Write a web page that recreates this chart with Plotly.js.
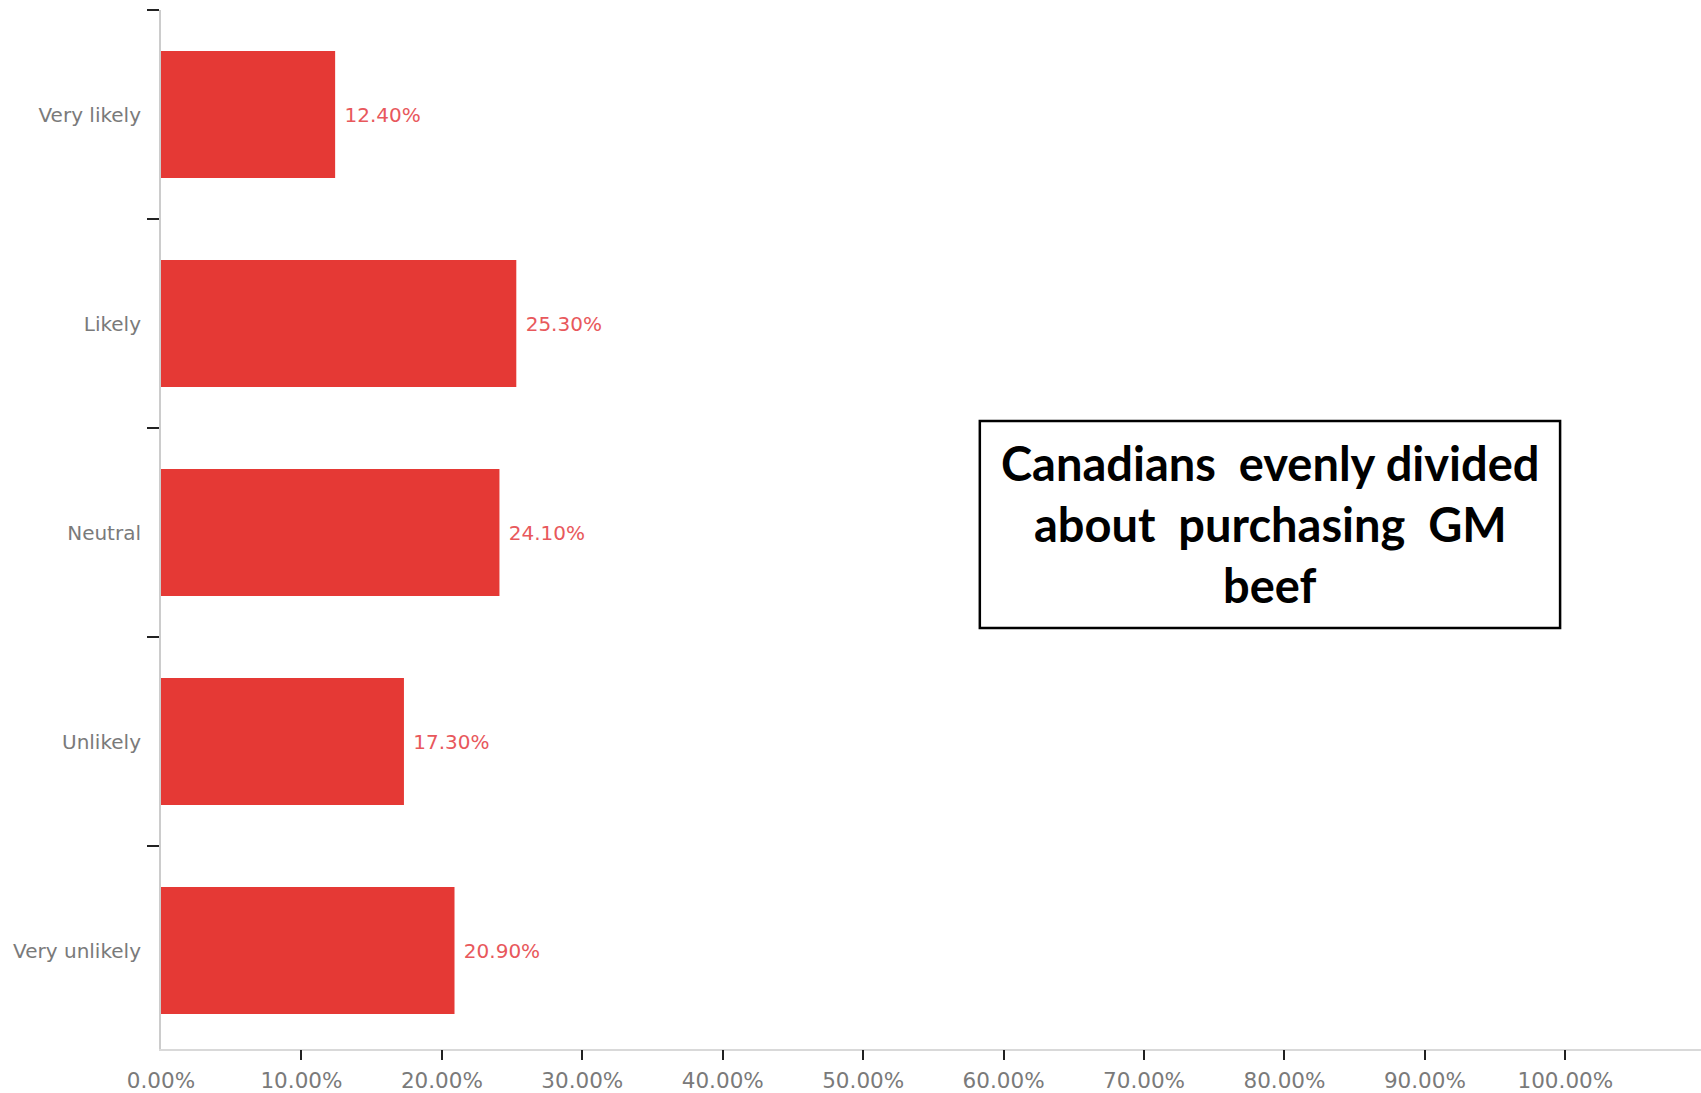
<!DOCTYPE html>
<html>
<head>
<meta charset="utf-8">
<script src="https://cdn.plot.ly/plotly-3.0.1.min.js"></script>
<style>
  html, body { margin: 0; padding: 0; background: #ffffff; }
  #chart { width: 1701px; height: 1093px; }
</style>
</head>
<body>
<div id="chart"></div>
<script>
// ---- data ----
var categories = ["Very likely", "Likely", "Neutral", "Unlikely", "Very unlikely"];
var shares = [0.124, 0.253, 0.241, 0.173, 0.209];
var xTickVals = [0, 0.1, 0.2, 0.3, 0.4, 0.5, 0.6, 0.7, 0.8, 0.9, 1.0];
var xTickText = ["0.00%", "10.00%", "20.00%", "30.00%", "40.00%", "50.00%", "60.00%", "70.00%", "80.00%", "90.00%", "100.00%"];
var xTickMarks = [0.1, 0.2, 0.3, 0.4, 0.5, 0.6, 0.7, 0.8, 0.9, 1.0];
var titleLines = ["Canadians  evenly divided", "about  purchasing  GM", "beef"];

var barColor = "#e53935";
var labelColor = "#e8585c";
var axisText = "#7a7a7a";
var labelFont = "DejaVu Sans, Liberation Sans, sans-serif";

var trace = {
  type: "bar",
  orientation: "h",
  x: shares,
  y: categories,
  marker: { color: barColor },
  text: shares.map(function (v) { return "\u00a0" + (v * 100).toFixed(2) + "%"; }),
  textposition: "outside",
  textfont: { family: labelFont, size: 20, color: labelColor },
  cliponaxis: false,
  hoverinfo: "skip",
  showlegend: false
};

// invisible trace on the overlay axis so that it gets drawn
var tickTrace = {
  type: "scatter",
  mode: "markers",
  x: [xTickMarks[0]],
  y: [categories[0]],
  xaxis: "x2",
  marker: { opacity: 0 },
  hoverinfo: "skip",
  showlegend: false
};

var xRange = [0, 1.0966];

var annotations = titleLines.map(function (t, i) {
  return {
    xref: "paper", yref: "paper",
    x: 0.7202, y: [0.564, 0.5053, 0.4466][i],
    xanchor: "center", yanchor: "middle",
    text: t,
    showarrow: false,
    font: { family: "Lato, Open Sans, sans-serif", size: 47, color: "#000000", weight: "bold" }
  };
});

var layout = {
  width: 1701,
  height: 1093,
  margin: { l: 160.5, r: 0, t: 10, b: 44, pad: 0 },
  paper_bgcolor: "#ffffff",
  plot_bgcolor: "#ffffff",
  bargap: 0.392,
  xaxis: {
    range: xRange,
    tickmode: "array",
    tickvals: xTickVals,
    ticktext: xTickText,
    ticks: "",
    showgrid: false,
    zeroline: false,
    showline: true,
    linecolor: "#d9d9d9",
    linewidth: 2,
    tickfont: { family: labelFont, size: 21.5, color: axisText },
    ticklabelstandoff: 11,
    fixedrange: true
  },
  xaxis2: {
    overlaying: "x",
    matches: "x",
    side: "bottom",
    range: xRange,
    tickmode: "array",
    tickvals: xTickMarks,
    ticks: "outside",
    ticklen: 10,
    tickwidth: 2,
    tickcolor: "#222222",
    showticklabels: false,
    showgrid: false,
    zeroline: false,
    showline: false,
    fixedrange: true
  },
  yaxis: {
    type: "category",
    categoryorder: "array",
    categoryarray: categories,
    range: [4.471, -0.5],
    tickson: "boundaries",
    ticks: "outside",
    ticklen: 12,
    tickwidth: 2,
    tickcolor: "#222222",
    showgrid: false,
    zeroline: false,
    showline: true,
    linecolor: "#cccccc",
    linewidth: 2,
    tickfont: { family: labelFont, size: 20, color: axisText },
    ticklabelstandoff: 14,
    fixedrange: true
  },
  shapes: [{
    type: "rect",
    xref: "paper", yref: "paper",
    x0: 0.5317, x1: 0.9085, y0: 0.4052, y1: 0.6045,
    line: { color: "#000000", width: 2.5 },
    fillcolor: "#ffffff",
    layer: "above"
  }],
  annotations: annotations
};

Plotly.newPlot("chart", [trace, tickTrace], layout, { staticPlot: true, displayModeBar: false });
</script>
</body>
</html>
